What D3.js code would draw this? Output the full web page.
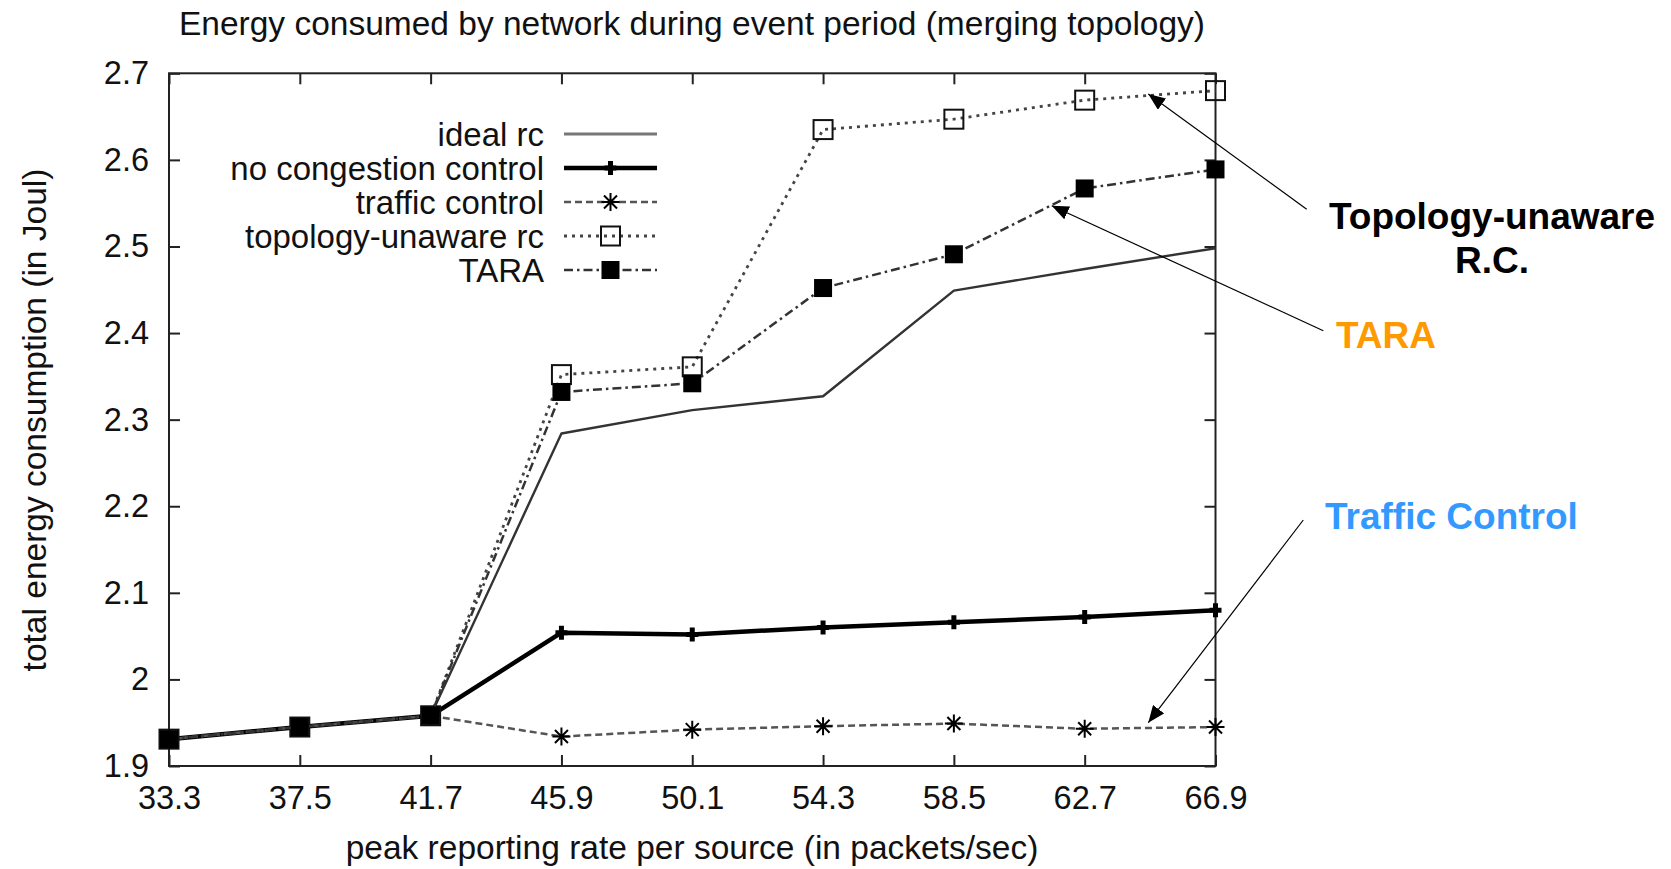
<!DOCTYPE html>
<html>
<head>
<meta charset="utf-8">
<script src="https://cdn.jsdelivr.net/npm/d3@7"></script>
<style>
body { margin: 0; background: #fff; }
text { font-family: "Liberation Sans", Arial, sans-serif; fill: #111; }
</style>
</head>
<body>
<div id="chart"></div>
<script>

// values
var rates = ['33.3','37.5','41.7','45.9','50.1','54.3','58.5','62.7','66.9'];
var yTicks = [1.9, 2, 2.1, 2.2, 2.3, 2.4, 2.5, 2.6, 2.7];
var seriesNames = ['ideal rc','no congestion control','traffic control','topology-unaware rc','TARA'];

var idealRc        = [1.931, 1.945, 1.958, 2.284, 2.311, 2.327, 2.449, 2.474, 2.498];
var noCongestion   = [1.931, 1.945, 1.958, 2.054, 2.052, 2.060, 2.066, 2.072, 2.080];
var trafficControl = [1.931, 1.945, 1.958, 1.934, 1.942, 1.946, 1.949, 1.943, 1.945];
var topoUnaware    = [1.931, 1.945, 1.958, 2.352, 2.361, 2.635, 2.647, 2.669, 2.680];
var tara           = [1.931, 1.945, 1.958, 2.332, 2.342, 2.452, 2.491, 2.567, 2.589];

// callouts: label lines and where their arrows point (x as position along the rate axis, y in Joul)
var calloutLabels = [['Topology-unaware', 'R.C.'], ['TARA'], ['Traffic Control']];
var calloutTips = [[7.486, 2.676], [6.748, 2.547], [7.486, 1.950]];

var width = 1671, height = 869;
var plotLeft = 169, plotRight = 1215.5, plotTop = 73.3, plotBottom = 766;

var svg = d3.select('#chart')
    .append('svg')
    .attr('width', width)
    .attr('height', height)
    .style('display', 'block');

var x = d3.scalePoint().domain(rates).range([plotLeft, plotRight]);
var xi = d3.scaleLinear().domain([0, rates.length - 1]).range([plotLeft, plotRight]);
var y = d3.scaleLinear().domain([1.9, 2.7]).range([plotBottom, plotTop]);

// title
svg.append('text')
    .attr('x', 692)
    .attr('y', 35)
    .attr('text-anchor', 'middle')
    .style('font-size', '33.5px')
    .text('Energy consumed by network during event period (merging topology)');

// axes, gnuplot style: ticks pointing inwards on all four sides
svg.append('g')
    .attr('transform', `translate(0,${plotBottom})`)
    .call(d3.axisBottom(x).tickSizeInner(-11).tickSizeOuter(0).tickPadding(20));

svg.append('g')
    .attr('transform', `translate(${plotLeft},0)`)
    .call(d3.axisLeft(y).tickValues(yTicks).tickFormat(d => d).tickSizeInner(-11).tickSizeOuter(0).tickPadding(20));

svg.append('g')
    .attr('transform', `translate(0,${plotTop})`)
    .call(d3.axisTop(x).tickSizeInner(-11).tickSizeOuter(0).tickFormat(''));

svg.append('g')
    .attr('transform', `translate(${plotRight},0)`)
    .call(d3.axisRight(y).tickValues(yTicks).tickSizeInner(-11).tickSizeOuter(0).tickFormat(''));

svg.selectAll('.domain').remove();
svg.selectAll('.tick line').attr('stroke', '#222').attr('stroke-width', 2);
svg.selectAll('.tick text').style('font-size', '32.5px').attr('fill', '#111');

svg.append('rect')
    .attr('x', plotLeft)
    .attr('y', plotTop)
    .attr('width', plotRight - plotLeft)
    .attr('height', plotBottom - plotTop)
    .attr('fill', 'none')
    .attr('stroke', '#222')
    .attr('stroke-width', 2);

// axis titles
svg.append('text')
    .attr('transform', `translate(34,420)rotate(-90)`)
    .attr('text-anchor', 'middle')
    .attr('dy', '0.35em')
    .style('font-size', '33.5px')
    .text('total energy consumption (in Joul)');

svg.append('text')
    .attr('x', 692)
    .attr('y', 859)
    .attr('text-anchor', 'middle')
    .style('font-size', '33.5px')
    .text('peak reporting rate per source (in packets/sec)');

// series
var seriesValues = [idealRc, noCongestion, trafficControl, topoUnaware, tara];
var lineStyles = [
    { stroke: '#333', width: 2.4, dash: null, marker: 'none' },
    { stroke: '#000', width: 4.5, dash: null, marker: 'plus' },
    { stroke: '#555', width: 2.5, dash: '7,4', marker: 'star' },
    { stroke: '#444', width: 2.8, dash: '3,5', marker: 'openSquare' },
    { stroke: '#333', width: 2.5, dash: '9,4,2.5,4', marker: 'filledSquare' }
];

function drawMarker(g, type, cx, cy) {
    if (type === 'plus') {
        g.append('path')
            .attr('d', `M${cx-6},${cy}H${cx+6}M${cx},${cy-7}V${cy+7}`)
            .attr('stroke', '#000').attr('stroke-width', 5);
    } else if (type === 'star') {
        var r = 9, d = 6.5;
        g.append('path')
            .attr('d', `M${cx-r},${cy}H${cx+r}M${cx},${cy-r}V${cy+r}M${cx-d},${cy-d}L${cx+d},${cy+d}M${cx-d},${cy+d}L${cx+d},${cy-d}`)
            .attr('stroke', '#000').attr('stroke-width', 2);
    } else if (type === 'openSquare') {
        g.append('rect')
            .attr('x', cx - 9.5).attr('y', cy - 9.5)
            .attr('width', 19).attr('height', 19)
            .attr('fill', 'none').attr('stroke', '#111').attr('stroke-width', 2);
    } else if (type === 'filledSquare') {
        g.append('rect')
            .attr('x', cx - 9).attr('y', cy - 9)
            .attr('width', 18).attr('height', 18)
            .attr('fill', '#000');
    }
}

var line = d3.line()
    .x((d, i) => x(rates[i]))
    .y(d => y(d));

var plot = svg.append('g').attr('class', 'series');

seriesValues.forEach((vals, k) => {
    var st = lineStyles[k];
    var g = plot.append('g');
    g.append('path')
        .datum(vals)
        .attr('d', line)
        .attr('fill', 'none')
        .attr('stroke', st.stroke)
        .attr('stroke-width', st.width)
        .attr('stroke-dasharray', st.dash)
        .attr('stroke-linejoin', 'round');
    vals.forEach((v, i) => drawMarker(g, st.marker, x(rates[i]), y(v)));
});

// legend
var legend = svg.append('g').attr('class', 'legend');
seriesNames.forEach((name, k) => {
    var st = lineStyles[k];
    var ly = 134 + k * 34;
    legend.append('text')
        .attr('x', 544)
        .attr('y', ly)
        .attr('dy', '0.35em')
        .attr('text-anchor', 'end')
        .style('font-size', '33px')
        .text(name);
    legend.append('line')
        .attr('x1', 564).attr('x2', 657)
        .attr('y1', ly).attr('y2', ly)
        .attr('stroke', k === 0 ? '#777' : st.stroke)
        .attr('stroke-width', k === 0 ? 3 : st.width)
        .attr('stroke-dasharray', st.dash);
    drawMarker(legend, st.marker, 610.5, ly);
});

// callouts
var defs = svg.append('defs');
defs.append('marker')
    .attr('id', 'head')
    .attr('markerUnits', 'userSpaceOnUse')
    .attr('markerWidth', 18)
    .attr('markerHeight', 14)
    .attr('refX', 17)
    .attr('refY', 7)
    .attr('orient', 'auto')
    .append('path')
    .attr('d', 'M0,0L17,7L0,14Z')
    .attr('fill', '#000');

var tails = [[1306.7, 209.3], [1323.3, 330.7], [1303.3, 520]];
calloutTips.forEach((t, k) => {
    svg.append('line')
        .attr('x1', tails[k][0]).attr('y1', tails[k][1])
        .attr('x2', xi(t[0])).attr('y2', y(t[1]))
        .attr('stroke', '#000')
        .attr('stroke-width', 1.2)
        .attr('marker-end', 'url(#head)');
});

var calloutColors = ['#000', '#FF9900', '#3399FF'];
var calloutPos = [[1492, 229.3, 'middle'], [1336, 348.3, 'start'], [1325, 529.3, 'start']];
calloutLabels.forEach((lines, k) => {
    lines.forEach((txt, j) => {
        svg.append('text')
            .attr('x', calloutPos[k][0])
            .attr('y', calloutPos[k][1] + j * 44)
            .attr('text-anchor', calloutPos[k][2])
            .style('font-size', '37px')
            .style('font-weight', 'bold')
            .style('fill', calloutColors[k])
            .text(txt);
    });
});

</script>
</body>
</html>
